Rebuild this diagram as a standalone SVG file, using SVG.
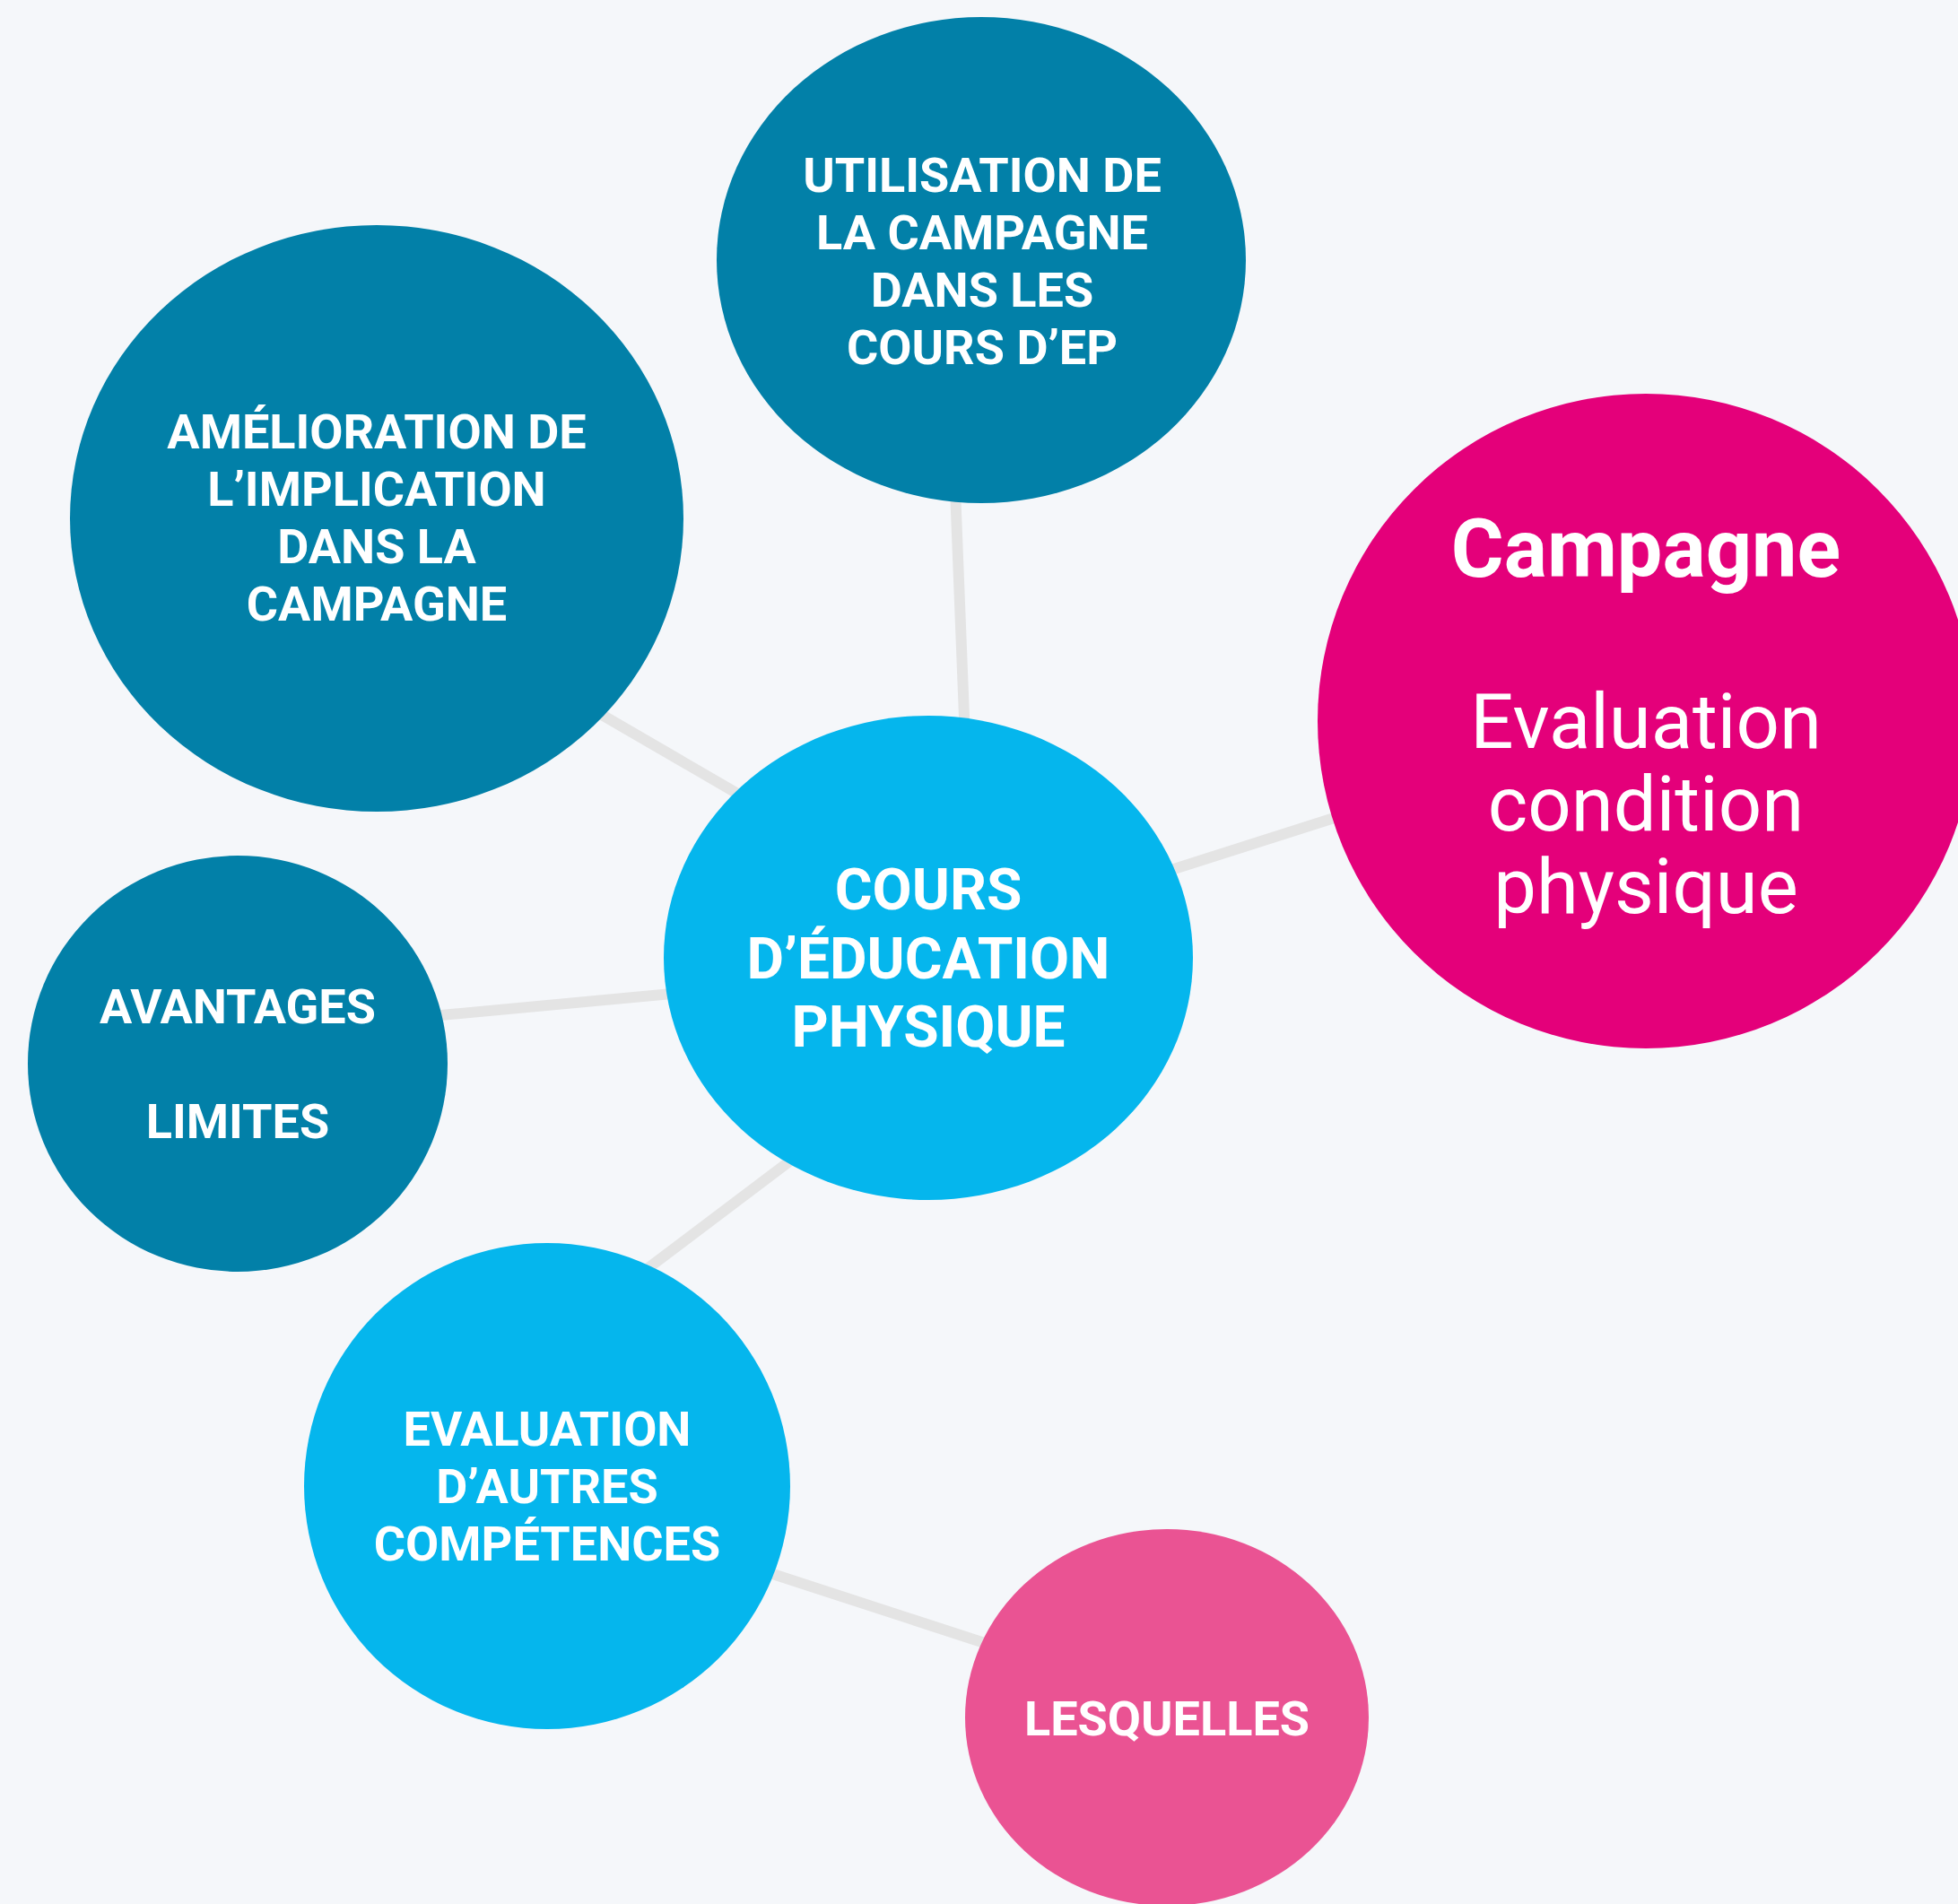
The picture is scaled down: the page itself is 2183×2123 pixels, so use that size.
<svg xmlns="http://www.w3.org/2000/svg" width="2183" height="2123" viewBox="0 0 2183 2123">
<style>
.bg{fill:#f5f7fa}
.edge{stroke:#e4e4e4;stroke-width:12;fill:none;stroke-linecap:butt}
.teal{fill:#0280a8}
.blue{fill:#05b6ed}
.mag{fill:#e4007a}
.pink{fill:#ea5393}
.lbl{font-family:Roboto,"Liberation Sans",sans-serif;font-weight:700;font-size:54px;fill:#ffffff;text-anchor:middle}
.big{font-size:64px}
.camp{font-family:Roboto,"Liberation Sans",sans-serif;fill:#ffffff;text-anchor:middle}
</style>
<rect class="bg" x="0" y="0" width="2183" height="2123"/>
<g id="connectors">
<line class="edge" x1="1064" y1="520" x2="1077" y2="850"/>
<line class="edge" x1="640" y1="779" x2="850" y2="901"/>
<line class="edge" x1="1290" y1="975" x2="1500" y2="908"/>
<line class="edge" x1="470" y1="1134" x2="760" y2="1107"/>
<line class="edge" x1="700" y1="1431" x2="900" y2="1280"/>
<line class="edge" x1="840" y1="1748" x2="1110" y2="1836"/>
</g>
<g id="node-utilisation">
<ellipse class="teal" cx="1094" cy="290" rx="295" ry="271"/>
<text class="lbl"><tspan x="1095" y="214">UTILISATION DE</tspan><tspan x="1095" y="278">LA CAMPAGNE</tspan><tspan x="1095" y="342">DANS LES</tspan><tspan x="1095" y="406">COURS D’EP</tspan></text>
</g>
<g id="node-amelioration">
<ellipse class="teal" cx="420" cy="578" rx="342" ry="327"/>
<text class="lbl"><tspan x="420" y="500">AMÉLIORATION DE</tspan><tspan x="420" y="564">L’IMPLICATION</tspan><tspan x="420" y="628">DANS LA</tspan><tspan x="420" y="692">CAMPAGNE</tspan></text>
</g>
<g id="node-campagne">
<ellipse class="mag" cx="1835" cy="804" rx="366" ry="365"/>
<text class="camp" x="1835" y="643" font-size="90" font-weight="700">Campagne</text>
<text class="camp" font-size="85" font-weight="400"><tspan x="1835" y="834">Evaluation</tspan><tspan x="1835" y="926">condition</tspan><tspan x="1835" y="1018">physique</tspan></text>
</g>
<g id="node-cours">
<ellipse class="blue" cx="1035" cy="1068" rx="295" ry="270"/>
<text class="lbl big"><tspan x="1035" y="1014">COURS</tspan><tspan x="1035" y="1091">D’ÉDUCATION</tspan><tspan x="1035" y="1167">PHYSIQUE</tspan></text>
</g>
<g id="node-avantages">
<ellipse class="teal" cx="265" cy="1186" rx="234" ry="232"/>
<text class="lbl"><tspan x="265" y="1141">AVANTAGES</tspan><tspan x="265" y="1269">LIMITES</tspan></text>
</g>
<g id="node-evaluation">
<ellipse class="blue" cx="610" cy="1657" rx="271" ry="271"/>
<text class="lbl"><tspan x="610" y="1612">EVALUATION</tspan><tspan x="610" y="1676">D’AUTRES</tspan><tspan x="610" y="1740">COMPÉTENCES</tspan></text>
</g>
<g id="node-lesquelles">
<ellipse class="pink" cx="1301" cy="1915" rx="225" ry="210"/>
<text class="lbl" x="1301" y="1935">LESQUELLES</text>
</g>
</svg>
